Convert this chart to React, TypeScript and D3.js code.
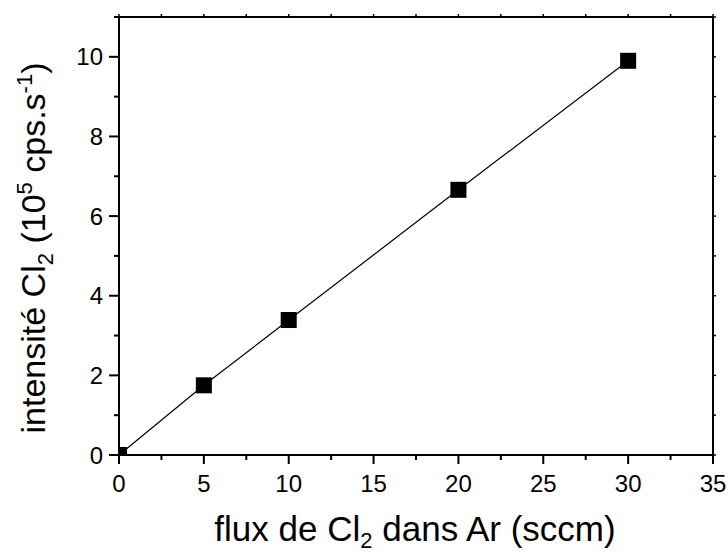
import React from "react";
import * as d3 from "d3";

const flux = [0, 5, 10, 20, 30];
const intensite = [0, 1.75, 3.39, 6.66, 9.9];
const xTicks = [0, 5, 10, 15, 20, 25, 30, 35];
const yTicks = [0, 2, 4, 6, 8, 10];

const W = 728, H = 554;
const L = 119, R = 713, T = 17, B = 455;
const FONT = "'Liberation Sans', Arial, sans-serif";

export default function App() {
  const x = d3.scaleLinear().domain([0, 35]).range([L, R]);
  const y = d3.scaleLinear().domain([0, 11]).range([B, T]);
  const pts = flux.map((f, i) => [f, intensite[i]] as [number, number]);
  const line = d3.line<[number, number]>().x(d => x(d[0])).y(d => y(d[1]));
  const xMinor = d3.range(0, 35.01, 2.5);
  const yMinor = d3.range(0, 11.01, 1);
  const ms = 16;
  return (
    <svg width={W} height={H} style={{ position: "absolute", left: 0, top: 0, background: "#fff" }} fontFamily={FONT}>
      <defs>
        <clipPath id="plot"><rect x={L} y={T} width={R - L} height={B - T} /></clipPath>
      </defs>
      <rect x={0} y={0} width={W} height={H} fill="#fff" />
      <path d={line(pts) || ""} fill="none" stroke="#000" strokeWidth={1.2} />
      <g clipPath="url(#plot)">
        {pts.map((p, i) => (
          <rect key={i} x={x(p[0]) - ms / 2} y={y(p[1]) - ms / 2} width={ms} height={ms} fill="#000" />
        ))}
      </g>
      <rect x={L} y={T} width={R - L} height={B - T} fill="none" stroke="#000" strokeWidth={2} />
      {xMinor.map((v, i) => {
        const major = Math.abs(v % 5) < 1e-6;
        return <line key={"bx" + i} x1={x(v)} x2={x(v)} y1={B} y2={B + (major ? 9 : 5)} stroke="#000" strokeWidth={2} />;
      })}
      {xMinor.map((v, i) => (
        <line key={"tx" + i} x1={x(v)} x2={x(v)} y1={T} y2={T - 3} stroke="#000" strokeWidth={1.5} />
      ))}
      {yMinor.map((v, i) => {
        const major = v % 2 === 0;
        return <line key={"ly" + i} x1={L} x2={L - (major ? 10 : 5)} y1={y(v)} y2={y(v)} stroke="#000" strokeWidth={2} />;
      })}
      {yMinor.map((v, i) => (
        <line key={"ry" + i} x1={R} x2={R + 3} y1={y(v)} y2={y(v)} stroke="#000" strokeWidth={1.5} />
      ))}
      {xTicks.map(v => (
        <text key={"xl" + v} x={x(v)} y={492} fontSize={24} textAnchor="middle" fill="#000">{v}</text>
      ))}
      {yTicks.map(v => (
        <text key={"yl" + v} x={103} y={y(v) + 8.5} fontSize={24} textAnchor="end" fill="#000">{v}</text>
      ))}
      <text x={415} y={541} fontSize={35} textAnchor="middle" fill="#000">
        flux de Cl<tspan fontSize={22} dy={7}>2</tspan><tspan dy={-7}> dans Ar (sccm)</tspan>
      </text>
      <text transform={`translate(45,${248}) rotate(-90)`} fontSize={34} textAnchor="middle" fill="#000">
        intensité Cl<tspan fontSize={22} dy={8}>2</tspan><tspan dy={-8}> (10</tspan><tspan fontSize={22} dy={-13}>5</tspan><tspan dy={13}> cps.s</tspan><tspan fontSize={22} dy={-13}>-1</tspan><tspan dy={13}>)</tspan>
      </text>
    </svg>
  );
}
